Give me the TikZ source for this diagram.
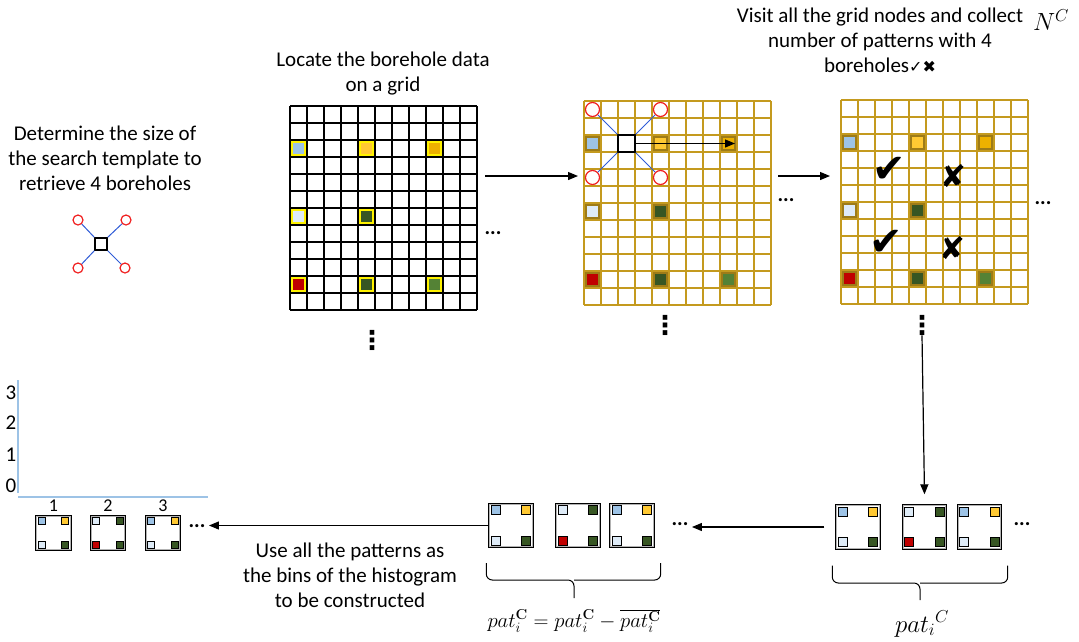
\documentclass[tikz,border=0pt]{standalone}
\usepackage[no-math]{fontspec}
\setmainfont{Carlito}
\newfontfamily\symfam{DejaVu Sans}
\usepackage{tikz}
\usetikzlibrary{positioning,arrows.meta,calc,decorations.pathreplacing}
\definecolor{bblue}{HTML}{9DC3E6}
\definecolor{bpale}{HTML}{DEEBF7}
\definecolor{byel}{HTML}{FFC933}
\definecolor{bamber}{HTML}{EDB100}
\definecolor{bdgreen}{HTML}{375623}
\definecolor{bmgreen}{HTML}{548235}
\definecolor{bred}{HTML}{C00000}
\definecolor{tgold}{HTML}{C49A1E}
\definecolor{tlink}{HTML}{2E5BD6}
\definecolor{tcirc}{HTML}{F02020}
\definecolor{haxis}{HTML}{9DC3E6}

% 11 x 12 cells of 17pt below node #1
\newcommand{\gridlines}[2]{%
  \foreach \i in {0,...,11} \draw[#2] ($(#1.north west)+(\i*17,0)$) -- ++(0,204);
  \foreach \j in {0,...,12} \draw[#2] ($(#1.north west)+(0,\j*17)$) -- ++(187,0);}
% the eight boreholes on a grid
\newcommand{\boreholes}[2]{%
  \foreach \c/\r/\col in {0/2/bblue,4/2/byel,8/2/bamber,0/6/bpale,4/6/bdgreen,0/10/bred,4/10/bdgreen,8/10/bmgreen}
    \draw[draw=#2, line width=1.5pt, fill=\col] ($(#1.north west)+(\c*17+2,\r*17+2)$) rectangle ++(13,13);}
% pattern box #1: corners tl, tr, bl, br, square size #6
\newcommand{\corners}[6]{%
  \draw[gray!60, line width=1pt] ([shift={(1.6,1.6)}]#1.north west) rectangle ([shift={(-1.6,-1.6)}]#1.south east);
  \draw[hole, fill=#2] ([shift={(3,3)}]#1.north west) rectangle ++(#6,#6);
  \draw[hole, fill=#3] ([shift={(-3-#6,3)}]#1.north east) rectangle ++(#6,#6);
  \draw[hole, fill=#4] ([shift={(3,-3-#6)}]#1.south west) rectangle ++(#6,#6);
  \draw[hole, fill=#5] ([shift={(-3-#6,-3-#6)}]#1.south east) rectangle ++(#6,#6);}

\begin{document}
\begin{tikzpicture}[x=1pt, y=-1pt, font=\fontsize{21}{25}\selectfont,
  area/.style={minimum width=187pt, minimum height=204pt, inner sep=0pt, outer sep=0pt},
  well/.style={circle, draw=tcirc, line width=1.2pt, fill=white, inner sep=0pt, minimum size=#1},
  ctr/.style={draw, line width=1.3pt, fill=white, inner sep=0pt, minimum size=#1},
  link/.style={tlink, line width=1pt},
  arr/.style={-{Triangle[length=10pt,width=8pt]}, line width=1.2pt},
  patbox/.style={draw, line width=1.4pt, fill=white, inner sep=0pt, minimum size=#1},
  hole/.style={draw, line width=0.8pt},
  bracket/.style={line width=1pt, rounded corners=6pt},
  vdot/.style={font=\symfam\bfseries\fontsize{26}{26}\selectfont, inner sep=0pt},
  axis/.style={haxis, line width=1.3pt}]
\useasboundingbox (0,0) rectangle (1079,641);

% search template
\node[align=center] (determine) at (105,158) {Determine the size of\\the search template to\\retrieve 4 boreholes};
\node[ctr=12pt] (t1) at (101,244) {};
\node[well=10pt] (w1) at (78,220) {};
\node[well=10pt] (w2) at (126,220) {};
\node[well=10pt] (w3) at (78,268) {};
\node[well=10pt] (w4) at (125,268) {};
\draw[link] (t1.north west) -- (w1); \draw[link] (t1.north east) -- (w2);
\draw[link] (t1.south west) -- (w3); \draw[link] (t1.south east) -- (w4);

% grid with the data
\node[align=center] (locate) at (383,74) {Locate the borehole data\\on a grid};
\node[area] (g1) at (383.5,208) {};
\gridlines{g1}{line width=1.2pt}
\boreholes{g1}{yellow}
\node (dd1) at (493,233) {\textbf{...}};
\node[vdot] (vd1) at (372,340) {⋮};

% scanning the grid
\node[area] (g2) at (677.5,203) {};
\gridlines{g2}{tgold, line width=1.5pt}
\boreholes{g2}{tgold!80!black}
\node[ctr=17pt] (t2) at ($(g2.north west)+(42.5,42.5)$) {};
\node[well=14pt] (s1) at ($(g2.north west)+(8.5,8.5)$) {};
\node[well=14pt] (s2) at ($(g2.north west)+(76.5,8.5)$) {};
\node[well=14pt] (s3) at ($(g2.north west)+(8.5,76.5)$) {};
\node[well=14pt] (s4) at ($(g2.north west)+(76.5,76.5)$) {};
\draw[link] (t2.north west) -- (s1); \draw[link] (t2.north east) -- (s2);
\draw[link] (t2.south west) -- (s3); \draw[link] (t2.south east) -- (s4);
\coordinate (scan) at ($(g2.north west)+(151,42.5)$);
\draw[arr] (t2.east) -- (scan);
\node (dd2) at (786,200) {\textbf{...}};
\node[vdot] (vd2) at (665,325) {⋮};

% counting the patterns
\node[align=center] (visit) at (880,40) {Visit all the grid nodes and collect\\number of patterns with 4\\boreholes{\symfam\fontsize{16}{16}\selectfont ✓✖}};
\node (nc) at (1051,20) {\fontsize{24}{24}\selectfont$N^{C}$};
\node[area] (g3) at (934.5,202) {};
\gridlines{g3}{tgold, line width=1.5pt}
\boreholes{g3}{tgold!80!black}
\node[font=\symfam\fontsize{40}{40}\selectfont] (ok1) at (889,170) {✔};
\node[font=\symfam\fontsize{40}{40}\selectfont] (ok2) at (886,243) {✔};
\node[font=\symfam\fontsize{31}{31}\selectfont] (no1) at (953,176) {✘};
\node[font=\symfam\fontsize{31}{31}\selectfont] (no2) at (952,248) {✘};
\node (dd3) at (1043,203) {\textbf{...}};
\node[vdot] (vd3) at (922,325) {⋮};

\draw[arr] ([shift={(8pt,32pt)}]g1.east) -- ([shift={(-6pt,27pt)}]g2.west);
\draw[arr] ([shift={(7pt,27pt)}]g2.east) -- ([shift={(-11pt,26pt)}]g3.west);

% collected patterns
\node[patbox=44pt] (r1) at (858,527) {};
\node[patbox=44pt] (r2) at (924.5,527) {};
\node[patbox=44pt] (r3) at (979.5,527) {};
\corners{r1}{bblue}{byel}{bpale}{bdgreen}{9}
\corners{r2}{bpale}{bdgreen}{bred}{bdgreen}{9}
\corners{r3}{bblue}{byel}{bpale}{bdgreen}{9}
\node (dr) at (1022,524) {\textbf{...}};
\coordinate (rl) at ([shift={(-3pt,-16pt)}]r1.south west);
\coordinate (rr) at ([shift={(5.5pt,-16pt)}]r3.south east);
\coordinate (rt) at (920,600);
\draw[bracket] (rl) |- (rt |- 0,583) -- (rt);
\draw[bracket] (rr) |- (rt |- 0,583);
\node (fr) at (922,624) {\fontsize{24}{24}\selectfont$pat_i{}^{C}$};
\draw[arr] (vd3.south) -- ([yshift=10pt]r2.north);

\node[patbox=44pt] (m1) at (511,525.5) {};
\node[patbox=44pt] (m2) at (578,525.5) {};
\node[patbox=44pt] (m3) at (632,525.5) {};
\corners{m1}{bblue}{byel}{bpale}{bdgreen}{9}
\corners{m2}{bpale}{bdgreen}{bred}{bdgreen}{9}
\corners{m3}{bblue}{byel}{bpale}{bdgreen}{9}
\node (dm) at (680,524) {\textbf{...}};
\coordinate (ml) at ([shift={(-2pt,-15pt)}]m1.south west);
\coordinate (mr) at ([shift={(6pt,-15pt)}]m3.south east);
\coordinate (mt) at (574,598);
\draw[bracket] (ml) |- (mt |- 0,580) -- (mt);
\draw[bracket] (mr) |- (mt |- 0,580);
\node (fm) at (574,621) {\fontsize{22}{22}\selectfont$pat_i^{\mathbf{C}}=pat_i^{\mathbf{C}}-\overline{pat_i^{\mathbf{C}}}$};
\draw[arr, shorten <=11pt] (r1.west) -- (r1.west -| dm.east);

% histogram bins
\draw[axis] (18,380) -- (18,493);
\draw[axis] (18,497) -- (208,497);
\foreach \v/\yy in {0/486,1/455,2/423,3/393} \node (tick\v) at (11,\yy) {\v};
\node[patbox=35pt] (h1) at (53.5,533) {};
\node[patbox=35pt] (h2) at (108,533) {};
\node[patbox=35pt] (h3) at (163,533) {};
\corners{h1}{bblue}{byel}{bpale}{bdgreen}{7}
\corners{h2}{bpale}{bdgreen}{bred}{bdgreen}{7}
\corners{h3}{bblue}{byel}{bpale}{bdgreen}{7}
\node[font=\fontsize{18}{18}\selectfont, above=0pt of h1] (b1) {1};
\node[font=\fontsize{18}{18}\selectfont, above=0pt of h2] (b2) {2};
\node[font=\fontsize{18}{18}\selectfont, above=0pt of h3] (b3) {3};
\node (dh) at (197,526) {\textbf{...}};
\draw[arr] (m1.west) -- (m1.west -| dh.east);
\node[align=center] (use) at (350,575) {Use all the patterns as\\the bins of the histogram\\to be constructed};
\end{tikzpicture}
\end{document}
